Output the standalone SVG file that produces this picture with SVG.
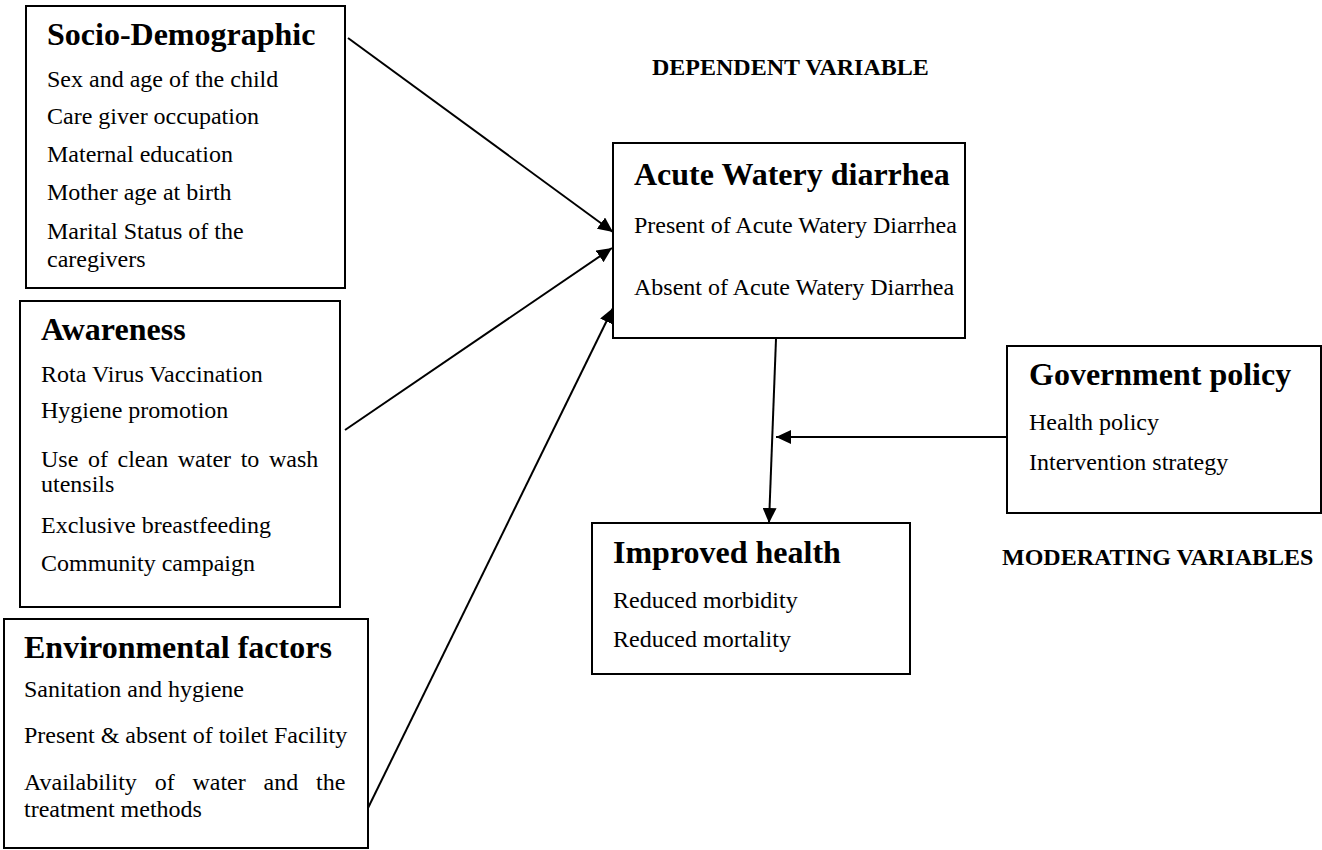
<svg xmlns="http://www.w3.org/2000/svg" width="1322" height="850" viewBox="0 0 1322 850">
<style>
.box{fill:#fff;stroke:#000;stroke-width:2}
.t{font-family:"Liberation Serif","Times New Roman",serif;font-weight:bold;font-size:32px;fill:#000}
.b{font-family:"Liberation Serif","Times New Roman",serif;font-size:24px;fill:#000}
.h{font-family:"Liberation Serif","Times New Roman",serif;font-weight:bold;font-size:24px;fill:#000}
.c{stroke:#000;stroke-width:2;fill:none;marker-end:url(#ah)}
</style>
<defs>
<marker id="ah" markerUnits="userSpaceOnUse" markerWidth="16" markerHeight="14" refX="15" refY="7" orient="auto">
<path d="M0,0 L15,7 L0,14 Z" fill="#000"/>
</marker>
</defs>
<rect width="1322" height="850" fill="#fff"/>
<text class="h" x="652" y="75">DEPENDENT VARIABLE</text>
<text class="h" x="1002" y="565">MODERATING VARIABLES</text>
<g id="socio">
<rect class="box" x="26" y="6" width="319" height="282"/>
<text class="t" x="47" y="45">Socio-Demographic</text>
<text class="b" x="47" y="87">Sex and age of the child</text>
<text class="b" x="47" y="124">Care giver occupation</text>
<text class="b" x="47" y="162">Maternal education</text>
<text class="b" x="47" y="200">Mother age at birth</text>
<text class="b" x="47" y="239">Marital Status of the</text>
<text class="b" x="47" y="267">caregivers</text>
</g>
<g id="awareness">
<rect class="box" x="20" y="301" width="320" height="306"/>
<text class="t" x="41" y="340">Awareness</text>
<text class="b" x="41" y="382">Rota Virus Vaccination</text>
<text class="b" x="41" y="418">Hygiene promotion</text>
<text class="b" x="41" y="467" word-spacing="3.6">Use of clean water to wash</text>
<text class="b" x="41" y="492">utensils</text>
<text class="b" x="41" y="533">Exclusive breastfeeding</text>
<text class="b" x="41" y="571">Community campaign</text>
</g>
<g id="environmental">
<rect class="box" x="4" y="619" width="364" height="229"/>
<text class="t" x="24" y="658">Environmental factors</text>
<text class="b" x="24" y="697">Sanitation and hygiene</text>
<text class="b" x="24" y="743">Present &amp; absent of toilet Facility</text>
<text class="b" x="24" y="790" word-spacing="11.8">Availability of water and the</text>
<text class="b" x="24" y="817">treatment methods</text>
</g>
<g id="acute">
<rect class="box" x="613" y="143" width="352" height="195"/>
<text class="t" x="634" y="185">Acute Watery diarrhea</text>
<text class="b" x="634" y="233">Present of Acute Watery Diarrhea</text>
<text class="b" x="634" y="295">Absent of Acute Watery Diarrhea</text>
</g>
<g id="improved">
<rect class="box" x="592" y="523" width="318" height="151"/>
<text class="t" x="613" y="563">Improved health</text>
<text class="b" x="613" y="608">Reduced morbidity</text>
<text class="b" x="613" y="647">Reduced mortality</text>
</g>
<g id="government">
<rect class="box" x="1007" y="346" width="314" height="167"/>
<text class="t" x="1029" y="385">Government policy</text>
<text class="b" x="1029" y="430">Health policy</text>
<text class="b" x="1029" y="470">Intervention strategy</text>
</g>
<g id="connectors">
<line class="c" x1="348" y1="38" x2="613" y2="232"/>
<line class="c" x1="345" y1="430" x2="612" y2="248"/>
<line class="c" x1="368" y1="808" x2="613" y2="308"/>
<line class="c" x1="776" y1="339" x2="769" y2="523"/>
<line class="c" x1="1007" y1="437" x2="776" y2="437"/>
</g>
</svg>
